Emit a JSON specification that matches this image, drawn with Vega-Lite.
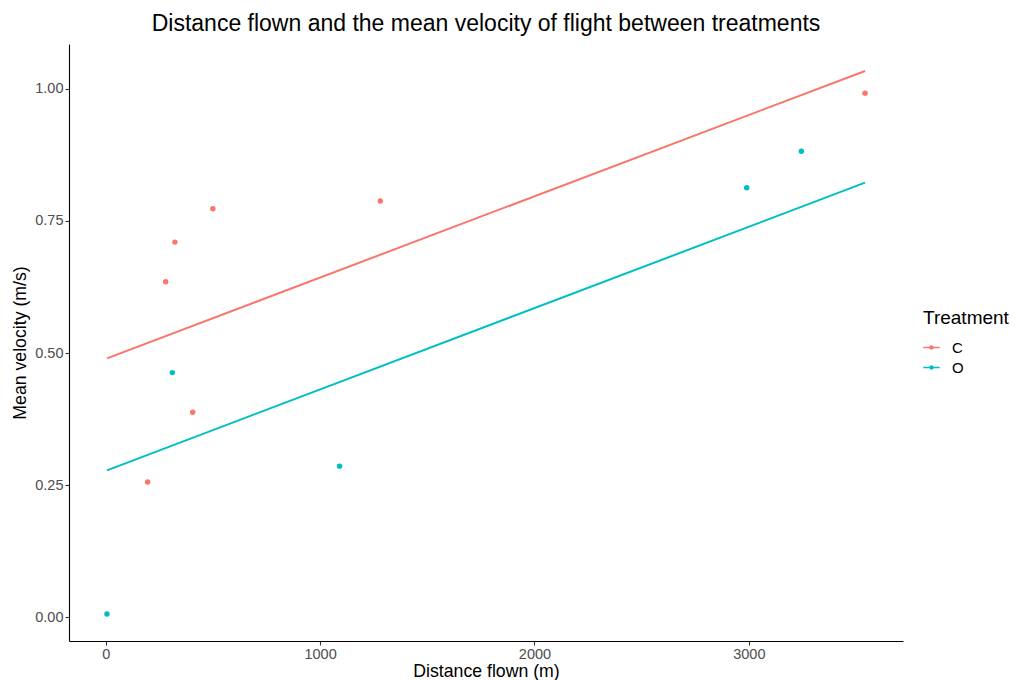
{
  "$schema": "https://vega.github.io/schema/vega-lite/v6.json",
  "width": 834,
  "height": 597,
  "autosize": "none",
  "padding": {"left": 69, "top": 44, "right": 112, "bottom": 39},
  "background": "white",
  "config": {
    "font": "Liberation Sans",
    "view": {"stroke": null},
    "axis": {
      "grid": false,
      "domainColor": "#000000",
      "domainWidth": 1.1,
      "tickColor": "#333333",
      "tickWidth": 1.1,
      "tickSize": 4,
      "labelColor": "#4D4D4D",
      "labelFont": "Liberation Sans",
      "labelFontSize": 14.5,
      "labelPadding": 2,
      "titleFont": "Liberation Sans",
      "titleFontSize": 17.7,
      "titleFontWeight": "normal",
      "titleColor": "#000000"
    },
    "legend": {
      "titleFont": "Liberation Sans",
      "titleFontSize": 19,
      "titleFontWeight": "normal",
      "titleColor": "#000000",
      "labelFont": "Liberation Sans",
      "labelFontSize": 15,
      "labelColor": "#000000"
    }
  },
  "title": {
    "text": "Distance flown and the mean velocity of flight between treatments",
    "anchor": "middle",
    "fontSize": 23,
    "fontWeight": "normal",
    "font": "Liberation Sans",
    "color": "#000000",
    "offset": 8
  },
  "datasets": {
    "points": [
      {"Treatment": "C", "distance": 196, "velocity": 0.256},
      {"Treatment": "C", "distance": 280, "velocity": 0.635},
      {"Treatment": "C", "distance": 323, "velocity": 0.710},
      {"Treatment": "C", "distance": 406, "velocity": 0.388},
      {"Treatment": "C", "distance": 500, "velocity": 0.773},
      {"Treatment": "C", "distance": 1281, "velocity": 0.788},
      {"Treatment": "C", "distance": 3542, "velocity": 0.992},
      {"Treatment": "O", "distance": 6, "velocity": 0.006},
      {"Treatment": "O", "distance": 311, "velocity": 0.463},
      {"Treatment": "O", "distance": 1091, "velocity": 0.286},
      {"Treatment": "O", "distance": 2990, "velocity": 0.813},
      {"Treatment": "O", "distance": 3245, "velocity": 0.882}
    ],
    "fits": [
      {"Treatment": "C", "distance": 6, "velocity": 0.490},
      {"Treatment": "C", "distance": 3542, "velocity": 1.034},
      {"Treatment": "O", "distance": 6, "velocity": 0.278},
      {"Treatment": "O", "distance": 3542, "velocity": 0.8225}
    ]
  },
  "layer": [
    {
      "data": {"name": "fits"},
      "mark": {"type": "line", "strokeWidth": 2},
      "encoding": {
        "x": {"field": "distance", "type": "quantitative"},
        "y": {"field": "velocity", "type": "quantitative"},
        "color": {"field": "Treatment", "type": "nominal"}
      }
    },
    {
      "data": {"name": "points"},
      "mark": {"type": "circle", "size": 30, "opacity": 1},
      "encoding": {
        "x": {
          "field": "distance",
          "type": "quantitative",
          "title": "Distance flown (m)",
          "scale": {"domain": [-171, 3719], "nice": false, "zero": false},
          "axis": {"values": [0, 1000, 2000, 3000], "format": "d", "titlePadding": 2}
        },
        "y": {
          "field": "velocity",
          "type": "quantitative",
          "title": "Mean velocity (m/s)",
          "scale": {"domain": [-0.045, 1.085], "nice": false, "zero": false},
          "axis": {"values": [0, 0.25, 0.5, 0.75, 1.0], "format": ".2f", "titlePadding": 5}
        },
        "color": {
          "field": "Treatment",
          "type": "nominal",
          "scale": {"domain": ["C", "O"], "range": ["#F8766D", "#00BFC4"]},
          "legend": {
            "orient": "none",
            "legendX": 854,
            "legendY": 265,
            "symbolType": "M-1,-0.08H1V0.08H-1Z M0.28,0A0.28,0.28 0 1,1 -0.28,0A0.28,0.28 0 1,1 0.28,0Z",
            "symbolSize": 270,
            "symbolStrokeWidth": 0,
            "symbolOpacity": 1,
            "labelOffset": 12,
            "rowPadding": 3,
            "titlePadding": 11
          }
        }
      }
    }
  ]
}
